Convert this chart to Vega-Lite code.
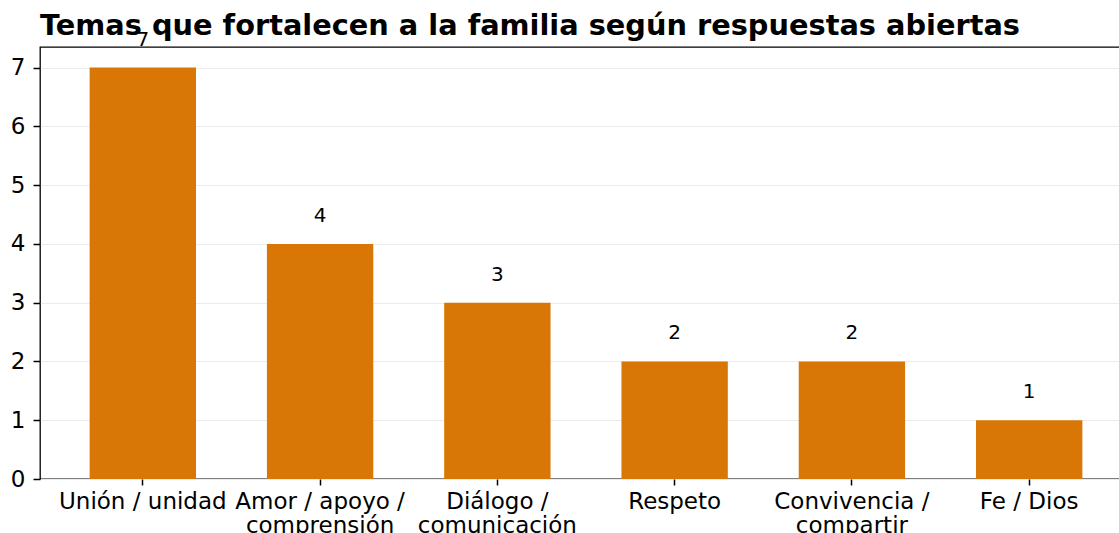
{
  "$schema": "https://vega.github.io/schema/vega-lite/v6.json",
  "autosize": {"type": "none"},
  "padding": {"left": 40, "top": 47, "right": 0, "bottom": 54},
  "width": 1092,
  "height": 432,
  "title": {
    "text": "Temas que fortalecen a la familia según respuestas abiertas",
    "anchor": "start",
    "frame": "group",
    "font": "DejaVu Sans",
    "fontSize": 28.8,
    "fontWeight": "bold",
    "color": "black",
    "baseline": "alphabetic",
    "offset": 8,
    "dy": 42
  },
  "config": {
    "font": "DejaVu Sans",
    "view": {"stroke": "black", "strokeWidth": 1.3},
    "axis": {
      "ticks": true,
      "tickColor": "black",
      "tickOpacity": 1,
      "tickWidth": 1.5,
      "domain": false
    }
  },
  "data": {
    "values": [
      {"tema": "Unión / unidad", "n": 7},
      {"tema": "Amor / apoyo / comprensión", "n": 4},
      {"tema": "Diálogo / comunicación", "n": 3},
      {"tema": "Respeto", "n": 2},
      {"tema": "Convivencia / compartir", "n": 2},
      {"tema": "Fe / Dios", "n": 1}
    ]
  },
  "encoding": {
    "x": {
      "field": "tema",
      "type": "nominal",
      "sort": null,
      "scale": {"paddingInner": 0.4, "paddingOuter": 0.28},
      "axis": {
        "title": null,
        "labelAngle": 0,
        "labelFont": "DejaVu Sans",
        "labelFontSize": 23,
        "labelColor": "black",
        "labelPadding": 5,
        "labelLineHeight": 24,
        "labelExpr": "split(replace(datum.label, ' / c', ' /|c'), '|')",
        "tickSize": 6,
        "grid": false
      }
    },
    "y": {
      "field": "n",
      "type": "quantitative",
      "scale": {"domain": [0, 7.35], "nice": false, "zero": true},
      "axis": {
        "title": null,
        "values": [0, 1, 2, 3, 4, 5, 6, 7],
        "labelFont": "DejaVu Sans",
        "labelFontSize": 23,
        "labelColor": "black",
        "labelPadding": 8,
        "tickSize": 7,
        "grid": true,
        "gridColor": "#ebebeb",
        "gridWidth": 1
      }
    }
  },
  "layer": [
    {"mark": {"type": "bar", "color": "#d97706"}},
    {
      "mark": {"type": "text", "dy": -22, "baseline": "alphabetic", "fontSize": 20, "font": "DejaVu Sans", "color": "black"},
      "encoding": {"text": {"field": "n", "type": "quantitative"}}
    }
  ]
}
